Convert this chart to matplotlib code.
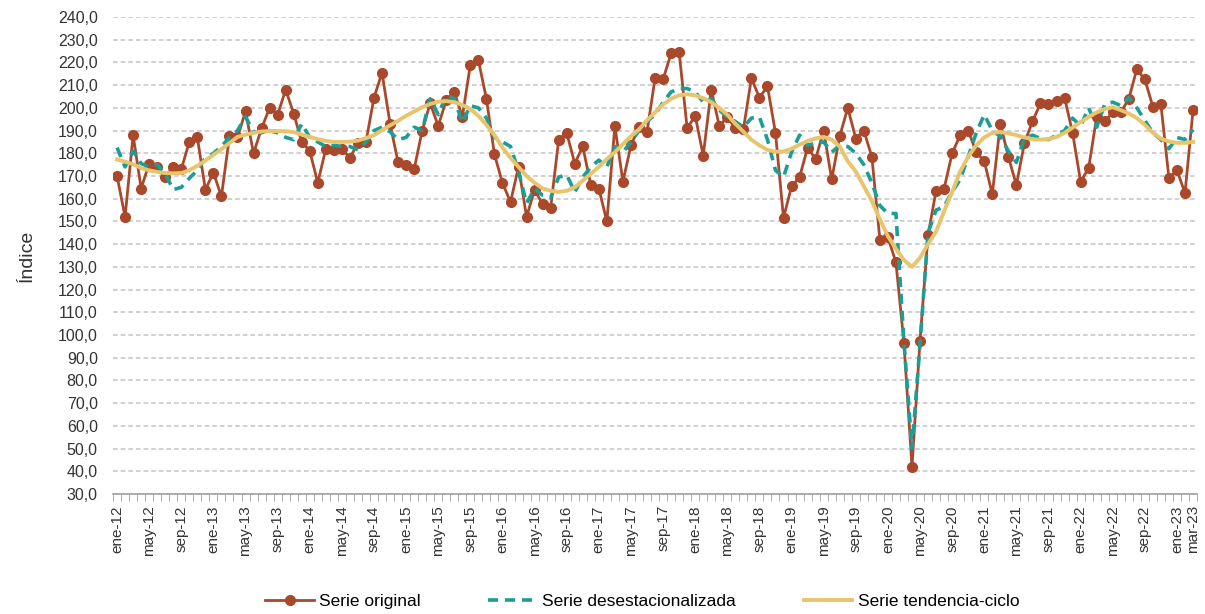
import numpy as np
import matplotlib
matplotlib.use('Agg')
import matplotlib.pyplot as plt
from matplotlib.ticker import FixedLocator, FuncFormatter

plt.rcParams['font.family'] = ['Liberation Sans', 'DejaVu Sans']

# monthly labels ene-12 .. mar-23
MESES = ['ene', 'feb', 'mar', 'abr', 'may', 'jun',
         'jul', 'ago', 'sep', 'oct', 'nov', 'dic']
periodos = ['%s-%02d' % (MESES[m], y) for y in range(12, 24) for m in range(12)][:135]

serie_original = [
    170, 152, 188, 164.5, 175.5, 174, 169.5, 174, 173, 185,
    187, 164, 171.5, 161, 187.5, 187, 198.5, 180, 191, 200,
    197, 208, 197.5, 185, 181, 167, 182, 181.5, 182, 178,
    184.5, 185, 204.5, 215.5, 193, 176, 175, 173, 190, 202,
    192, 203.5, 207, 196, 219, 221, 204, 179.5, 167, 158.5,
    174, 152, 164, 157.5, 156, 186, 189, 175.5, 183, 166,
    164.5, 150, 192, 167.5, 183.5, 191.5, 189.5, 213, 212.5, 224,
    224.5, 191, 196.5, 179, 208, 192, 196, 191, 190.5, 213,
    204.5, 209.5, 189, 151.5, 165.5, 169.5, 182.5, 177.5, 190, 168.5,
    187.5, 200, 186.5, 190, 178.5, 142, 143, 132, 96.5, 42,
    97.5, 144, 163.5, 164.5, 180, 188, 190, 180.5, 176.5, 162,
    193, 178.5, 166, 184.5, 194, 202, 201.5, 203, 204.5, 189,
    167.5, 173.5, 196, 194, 198, 198, 204, 217, 212.5, 200.5,
    201.5, 169, 172.5, 162.5, 199,
]

serie_desestacionalizada = [
    182.5, 174, 181, 175.5, 174, 175, 171, 164, 165, 169,
    172.5, 178, 180, 183, 187, 190, 196, 189.5, 189, 190,
    189, 187, 186, 193, 187, 185, 183, 183.5, 183, 183,
    181.5, 185, 190, 191.5, 189.5, 186, 187, 191.5, 190, 204,
    197, 205.5, 204, 193.5, 201, 200, 195.5, 187, 185, 183,
    172, 158, 164.5, 161.5, 160.5, 169.5, 170.5, 163, 169.5, 174,
    177, 174, 183, 180.5, 185, 190, 194, 197, 202.5, 207,
    208.5, 208.5, 207, 202.5, 204, 199, 196, 194, 191.5, 195.5,
    196, 186, 172.5, 169.5, 180.5, 188, 183.5, 184.5, 185, 180.5,
    183.5, 183, 180, 175, 167, 157, 153.5, 153.5, 97, 50,
    96, 145, 155, 156.5, 163, 168.5, 178.5, 189, 197, 190,
    187.5, 181, 176, 186.5, 188, 186.5, 186, 188, 190, 195.5,
    192, 200, 191.5, 201.5, 202.5, 201, 204.5, 200, 194.5, 189,
    186, 182, 187, 186, 190.5,
]

serie_tendencia = [
    177.3, 176.3, 175.2, 173.5, 172.5, 171.8, 171.3, 171.2, 171.3, 172.5,
    174.5, 176.8, 179.3, 181.8, 184.5, 187.2, 188.2, 189, 189.6, 189.8,
    189.8, 189.7, 189.3, 188.3, 187.2, 186.2, 185.5, 185, 185, 185.1,
    185.6, 186.7, 188, 190.2, 192.3, 194.3, 196.5, 198.4, 200.3, 201.7,
    202.7, 203, 202.5, 201.3, 199.5, 196.5, 192.5, 188, 182.5, 178,
    174, 170, 167, 164.5, 163.5, 163, 163.5, 165, 168, 171,
    174, 177.5, 180.5, 184, 187.5, 190.5, 194.5, 198, 201.5, 204,
    205.5, 206, 205.5, 204.3, 202.5, 200, 197, 193, 189.5, 186,
    183.5, 181.5, 180.7, 180.8, 182, 183.8, 185.4, 186.6, 187.2, 186,
    183, 176.5, 172, 165.5, 159, 151, 143.5, 138, 133, 130,
    134, 140, 145.5, 154.5, 163, 172, 178.5, 183.5, 187, 189,
    189.4, 188.8, 188, 187, 186.2, 186, 186.3, 187.2, 189, 191.3,
    193.8, 196, 198, 199.5, 200.3, 199, 197.5, 195.5, 192.5, 189,
    186.5, 185.2, 184.6, 184.6, 185,
]

C_ORIG = '#A9482B'
C_DESEST = '#1C9E96'
C_TEND = '#E8C46C'

x = np.arange(len(periodos))

fig = plt.figure(figsize=(12.05, 6.14), dpi=100)
ax = fig.add_axes([0.0938, 0.1954, 0.8996, 0.7769])

ax.plot(x, serie_original, color=C_ORIG, lw=2.0, marker='o', ms=7,
        label='Serie original', zorder=3)
ax.plot(x, serie_desestacionalizada, color=C_DESEST, lw=2.6,
        dashes=(2.8, 1.9), label='Serie desestacionalizada', zorder=4)
ax.plot(x, serie_tendencia, color=C_TEND, lw=2.8,
        label='Serie tendencia-ciclo', zorder=5)

ax.set_ylim(30, 240)
ax.set_yticks(np.arange(30, 241, 10))
ax.yaxis.set_major_formatter(FuncFormatter(lambda v, p: ('%.1f' % v).replace('.', ',')))
ax.grid(axis='y', color='#C4C4C4', lw=1.1, dashes=(3, 2))
ax.set_axisbelow(True)

ax.set_xlim(-0.5, len(periodos) - 0.5)
etiq = [i for i in range(len(periodos)) if i % 4 == 0] + [len(periodos) - 1]
ax.set_xticks(etiq)
ax.set_xticklabels([periodos[i] for i in etiq], rotation=90)
ax.xaxis.set_minor_locator(FixedLocator(np.arange(-0.5, len(periodos), 1)))
ax.tick_params(axis='x', which='major', length=0, pad=8, labelsize=11, colors='#333333')
ax.tick_params(axis='x', which='minor', length=5, color='#A0A0A0', direction='out')
ax.tick_params(axis='y', length=0, pad=11, labelsize=11.5, colors='#333333')

for s in ['top', 'right', 'left']:
    ax.spines[s].set_visible(False)
ax.spines['bottom'].set_color('#A0A0A0')
ax.spines['bottom'].set_linewidth(1.2)

ax.set_ylabel('Índice', fontsize=14, color='#333333', labelpad=16)

fig.legend(loc='center', bbox_to_anchor=(0.533, 0.021), ncol=3, frameon=False,
           fontsize=12.5, columnspacing=3.9, handlelength=2.8, handletextpad=0.3)

fig.savefig('out.png', dpi=100)
